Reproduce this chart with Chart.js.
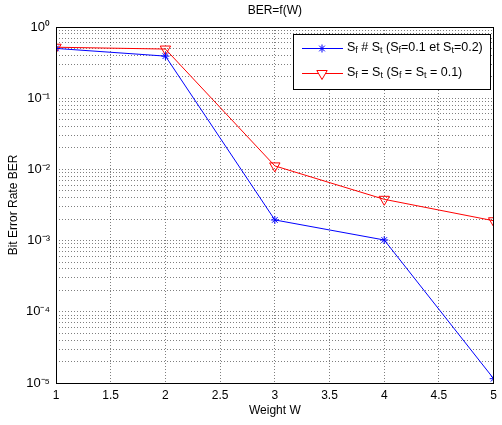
<!DOCTYPE html>
<html>
<head>
<meta charset="utf-8">
<script src="https://cdn.jsdelivr.net/npm/chart.js@4/dist/chart.umd.min.js"></script>
<style>
  html, body { margin: 0; padding: 0; background: #fff; }
  #wrap { width: 502px; height: 425px; }
</style>
</head>
<body>
<div id="wrap"><canvas id="ber"></canvas></div>
<script>
var weights = [1, 2, 3, 4, 5];
var berDiff = [0.5, 0.39, 0.00195, 0.00102, 0.0000115];   // Sf # St
var berSame = [0.52, 0.49, 0.0112, 0.0038, 0.0019];      // Sf = St
var xTicks = [1, 1.5, 2, 2.5, 3, 3.5, 4, 4.5, 5];
var decades = [-5, -4, -3, -2, -1, 0];
var supers = { "0": "\u2070", "1": "\u00b9", "2": "\u00b2", "3": "\u00b3", "4": "\u2074", "5": "\u2075", "-": "\u207b" };

var FONT = "Liberation Sans, Arial, sans-serif";

function toSup(n) {
    return String(n).split("").map(function(c) { return supers[c]; }).join("");
}

// text with subscript pieces
function drawSubText(ctx, parts, x, y) {
    parts.forEach(function(p) {
        if (p.sub) {
            ctx.font = "9px " + FONT;
            ctx.fillText(p.t, x, y + 3);
        } else {
            ctx.font = "12.5px " + FONT;
            ctx.fillText(p.t, x, y);
        }
        x += ctx.measureText(p.t).width;
    });
}

var framePlugin = {
    id: "frame",
    afterDraw: function(chart) {
        var ctx = chart.ctx;
        var a = chart.chartArea;
        ctx.save();
        ctx.strokeStyle = "#000";
        ctx.lineWidth = 1;
        ctx.strokeRect(Math.round(a.left) + 0.5, Math.round(a.top) + 0.5,
                       Math.round(a.right - a.left) - 1, Math.round(a.bottom - a.top));

        ctx.fillStyle = "#000";
        ctx.textAlign = "center";
        ctx.textBaseline = "middle";
        ctx.font = "12px " + FONT;
        ctx.fillText("BER=f(W)", (a.left + a.right) / 2, 11);
        ctx.fillText("Weight W", (a.left + a.right) / 2, 411);
        ctx.save();
        ctx.translate(14, (a.top + a.bottom) / 2);
        ctx.rotate(-Math.PI / 2);
        ctx.fillText("Bit Error Rate BER", 0, 0);
        ctx.restore();

        // legend
        var lx = 293, ly = 34, lw = 197, lh = 55;
        ctx.fillStyle = "#fff";
        ctx.fillRect(lx, ly, lw, lh);
        ctx.strokeRect(lx + 0.5, ly + 0.5, lw, lh);

        var rows = [
            { color: "#0000ff", y: 48, style: "star",
              parts: [{t: "S"}, {t: "f", sub: 1}, {t: " # S"}, {t: "t", sub: 1}, {t: " (S"}, {t: "f", sub: 1},
                      {t: "=0.1 et S"}, {t: "t", sub: 1}, {t: "=0.2)"}] },
            { color: "#ff0000", y: 73, style: "tri",
              parts: [{t: "S"}, {t: "f", sub: 1}, {t: " = S"}, {t: "t", sub: 1}, {t: " (S"}, {t: "f", sub: 1},
                      {t: " = S"}, {t: "t", sub: 1}, {t: " = 0.1)"}] }
        ];
        rows.forEach(function(r) {
            ctx.strokeStyle = r.color;
            ctx.lineWidth = 1;
            ctx.beginPath();
            ctx.moveTo(302, r.y + 0.5);
            ctx.lineTo(343, r.y + 0.5);
            ctx.stroke();
            if (r.style === "star") {
                ctx.fillStyle = r.color;
                Chart.helpers.drawPoint(ctx, { pointStyle: "star", radius: 4, borderWidth: 1 }, 322, r.y + 0.5);
            } else {
                ctx.fillStyle = "#fff";
                Chart.helpers.drawPoint(ctx, { pointStyle: "triangle", radius: 6, rotation: 180, borderWidth: 1 }, 322, r.y + 0.5);
            }
            ctx.fillStyle = "#000";
            ctx.textAlign = "left";
            drawSubText(ctx, r.parts, 347, r.y);
        });
        ctx.restore();
    }
};

var config = {
    type: "line",
    data: {
        datasets: [{
            label: "Sf # St",
            data: weights.map(function(w, i) { return { x: w, y: berDiff[i] }; }),
            borderColor: "#0000ff",
            backgroundColor: "#0000ff",
            borderWidth: 1,
            pointStyle: "star",
            pointRadius: 4,
            pointBorderWidth: 1,
            tension: 0
        }, {
            label: "Sf = St",
            data: weights.map(function(w, i) { return { x: w, y: berSame[i] }; }),
            borderColor: "#ff0000",
            backgroundColor: "rgba(0,0,0,0)",
            borderWidth: 1,
            pointStyle: "triangle",
            pointRotation: 180,
            pointRadius: 6,
            pointBorderWidth: 1,
            tension: 0
        }]
    },
    options: {
        responsive: true,
        maintainAspectRatio: false,
        animation: false,
        layout: { padding: { left: 0, right: 1, top: 27, bottom: 0 } },
        plugins: {
            legend: { display: false },
            title: { display: false },
            tooltip: { enabled: false }
        },
        scales: {
            x: {
                type: "linear",
                min: 1,
                max: 5,
                afterBuildTicks: function(scale) {
                    scale.ticks = xTicks.map(function(v) { return { value: v }; });
                },
                afterFit: function(scale) { scale.height = 42; },
                ticks: {
                    color: "#000",
                    font: { family: FONT, size: 12 },
                    padding: 5,
                    maxRotation: 0,
                    callback: function(v) { return String(v); }
                },
                grid: { color: "rgba(0,0,0,0.5)", drawTicks: false, lineWidth: 1 },
                border: { display: false, dash: [1, 2] }
            },
            y: {
                type: "logarithmic",
                min: 1e-5,
                max: 1,
                afterBuildTicks: function(scale) {
                    var t = [];
                    decades.forEach(function(d) {
                        var n = d === 0 ? 1 : 9;
                        for (var m = 1; m <= n; m++) {
                            t.push({ value: m * Math.pow(10, d), major: m === 1 });
                        }
                    });
                    scale.ticks = t;
                },
                afterFit: function(scale) { scale.width = 56; },
                ticks: {
                    color: "#000",
                    font: { family: FONT, size: 13 },
                    padding: 6,
                    autoSkip: false,
                    callback: function(v) {
                        var e = Math.log10(v);
                        if (Math.abs(e - Math.round(e)) < 1e-9) return "10" + toSup(Math.round(e));
                        return "";
                    }
                },
                grid: { color: "rgba(0,0,0,0.5)", drawTicks: false, lineWidth: 1 },
                border: { display: false, dash: [1, 2] }
            }
        }
    },
    plugins: [framePlugin]
};

var ctx = document.getElementById("ber");
window.berChart = new Chart(ctx, config);
</script>
</body>
</html>
